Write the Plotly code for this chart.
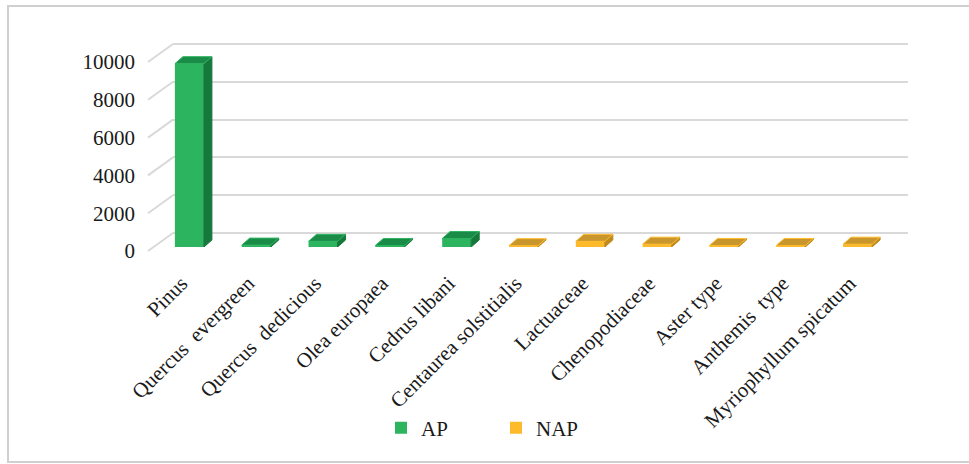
import plotly.graph_objects as go

W, H = 969, 464

categories = ["Pinus", "Quercus  evergreen", "Quercus  dedicious", "Olea europaea",
              "Cedrus libani", "Centaurea solstitialis", "Lactuaceae", "Chenopodiaceae",
              "Aster type", "Anthemis  type", "Myriophyllum spicatum"]
ap_names = categories[:5]
ap_values = [9700, 100, 300, 80, 450]
nap_names = categories[5:]
nap_values = [70, 300, 150, 80, 80, 150]
y_ticks = [0, 2000, 4000, 6000, 8000, 10000]
y_tick_labels = ["0", "2000", "4000", "6000", "8000", "10000"]

FONT = "Liberation Serif"
FS = 21


def px(x):
    return x / W


def py(y):
    return 1 - y / H


# geometry of the pseudo-3D box (pixels)
FLOOR_X0, FLOOR_X1 = 148, 883
FLOOR_Y0 = 251
SPAN = 189            # pixels for 0..10000
DEPTH_X, DEPTH_Y = 25, 18
BAR_DX, BAR_DY = 8, 4
SIDE_DX, SIDE_DY = 8, 7
BAR_W = 0.434
n = len(categories)
cat_px = (FLOOR_X1 - FLOOR_X0) / n
side_dx = SIDE_DX / cat_px
side_dy = SIDE_DY * 10000 / SPAN
ymaxC = 11000
ymaxB = 10300

fig = go.Figure()

idx_ap = list(range(len(ap_values)))
idx_nap = list(range(len(ap_values), n))

series = [
    ("AP", idx_ap, ap_values, "#2db45f", "#16793b", "#1a8c47"),
    ("NAP", idx_nap, nap_values, "#fdbb2b", "#c08a1c", "#c8962d"),
]

for name, idx, vals, c_front, c_side, c_top in series:
    fig.add_trace(go.Bar(x=idx, y=vals, width=BAR_W, name=name, marker_color=c_front,
                         marker_line_width=0, xaxis="x3", yaxis="y3"))

for name, idx, vals, c_front, c_side, c_top in series:
    sx, sy, tx, ty = [], [], [], []
    for i, v in zip(idx, vals):
        r = i + BAR_W / 2
        l = i - BAR_W / 2
        sx += [r, r, r + side_dx, r + side_dx, r, None]
        sy += [0, v, v + side_dy, side_dy, 0, None]
        tx += [l, r, r + side_dx, l + side_dx, l, None]
        ty += [v, v, v + side_dy, v + side_dy, v, None]
    fig.add_trace(go.Scatter(x=sx, y=sy, mode="lines", fill="toself", fillcolor=c_side,
                             line=dict(color=c_side, width=1), showlegend=False,
                             hoverinfo="skip", xaxis="x3", yaxis="y3"))
    fig.add_trace(go.Scatter(x=tx, y=ty, mode="lines", fill="toself", fillcolor=c_top,
                             line=dict(color=c_front, width=1), showlegend=False,
                             hoverinfo="skip", xaxis="x3", yaxis="y3"))

# diagonal side-wall lines
shapes = []
for v in y_ticks:
    yf = FLOOR_Y0 - v * SPAN / 10000
    shapes.append(dict(type="line", xref="paper", yref="paper",
                       x0=px(FLOOR_X0), y0=py(yf),
                       x1=px(FLOOR_X0 + DEPTH_X), y1=py(yf - DEPTH_Y),
                       line=dict(color="#d9d9d9", width=2), layer="below"))
# chart area border
shapes.append(dict(type="rect", xref="paper", yref="paper",
                   x0=px(8), y0=py(462), x1=1.01, y1=py(6),
                   line=dict(color="#d0d0d0", width=2), layer="below"))

yB0 = FLOOR_Y0 - DEPTH_Y
fig.update_layout(
    width=W, height=H, margin=dict(l=0, r=0, t=0, b=0, autoexpand=False),
    paper_bgcolor="white", plot_bgcolor="rgba(0,0,0,0)",
    barmode="overlay",
    font=dict(family=FONT, size=FS, color="#1a1a1a"),
    shapes=shapes,
    showlegend=True,
    legend=dict(orientation="h", x=px(496), xanchor="center", y=py(428), yanchor="middle",
                font=dict(family=FONT, size=FS, color="#1a1a1a"), entrywidth=70,
                traceorder="normal"),
    # front floor plane: y tick labels
    xaxis=dict(domain=[px(FLOOR_X0), px(FLOOR_X1)], range=[0, 1], visible=False,
               automargin=False),
    yaxis=dict(domain=[py(FLOOR_Y0), py(FLOOR_Y0 - SPAN)], range=[0, 10000], anchor="x",
               tickvals=y_ticks, ticktext=y_tick_labels, showgrid=False, zeroline=False,
               showline=False, ticks="", ticklabelstandoff=12, tickfont=dict(size=FS),
               automargin=False),
    # back wall: gridlines
    xaxis2=dict(domain=[px(FLOOR_X0 + DEPTH_X), px(FLOOR_X1 + DEPTH_X)], range=[0, 1],
                visible=False, anchor="y2", automargin=False),
    yaxis2=dict(domain=[py(yB0), py(yB0 - SPAN * ymaxB / 10000)],
                range=[0, ymaxB], anchor="x2", tickvals=y_ticks, showticklabels=False,
                showgrid=True, gridcolor="#d9d9d9", gridwidth=2, zeroline=True,
                zerolinecolor="#d9d9d9", zerolinewidth=2, showline=False, ticks="",
                automargin=False),
    # bar plane
    xaxis3=dict(domain=[px(FLOOR_X0 + BAR_DX), px(FLOOR_X1 + BAR_DX)], range=[-0.5, n - 0.5],
                anchor="y3", tickvals=list(range(n)), ticktext=categories, tickangle=-45,
                showgrid=False, zeroline=False, showline=False, ticks="",
                ticklabelstandoff=19, ticklabelshift=-8, tickfont=dict(size=FS),
                automargin=False),
    yaxis3=dict(domain=[py(FLOOR_Y0 - BAR_DY), py(FLOOR_Y0 - BAR_DY - SPAN * ymaxC / 10000)],
                range=[0, ymaxC], anchor="x3", visible=False, automargin=False),
)
# dummy traces to activate the floor and back-wall axes
fig.add_trace(go.Scatter(x=[None], y=[None], xaxis="x", yaxis="y", showlegend=False))
fig.add_trace(go.Scatter(x=[None], y=[None], xaxis="x2", yaxis="y2", showlegend=False))

fig.write_html("out.html")
